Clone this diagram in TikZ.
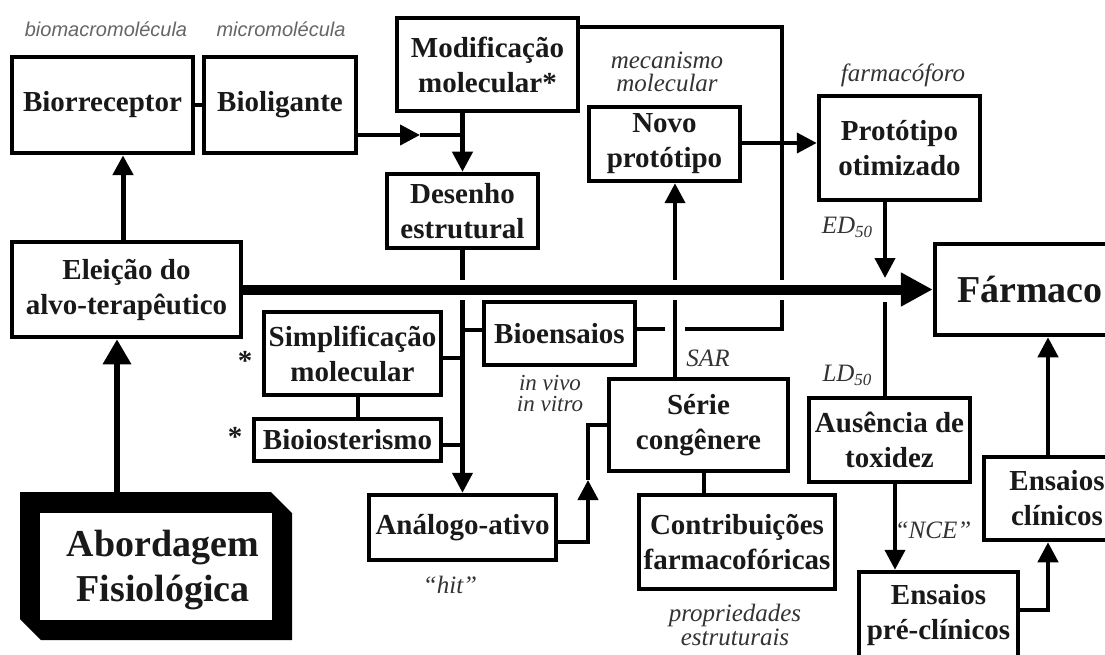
\documentclass[tikz,border=0pt]{standalone}
\usepackage{fontspec}
\setmainfont{Liberation Serif}
\newfontfamily\lsans{Liberation Sans}
\usetikzlibrary{arrows.meta}
\begin{document}
\begin{tikzpicture}[x=1pt,y=-1pt,
  box/.style={draw=black, line width=4.5pt, inner sep=0pt, align=center, text=black!90,
     font=\bfseries\fontsize{29}{35}\selectfont},
  bigbox/.style={box, font=\bfseries\fontsize{38}{45}\selectfont},
  conn/.style={line width=4.2pt, draw=black},
  arr/.style={conn, -{Triangle[length=20pt,width=20pt]}},
  mainarr/.style={line width=10pt, draw=black, -{Triangle[length=32pt,width=32pt]}},
  aboarr/.style={line width=6.5pt, draw=black, -{Triangle[length=25pt,width=27pt]}},
  lbl/.style={inner sep=0pt, align=center, text=black!80, font=\itshape\fontsize{25}{23}\selectfont},
  glbl/.style={inner sep=0pt, text=black!60, font=\lsans\itshape\fontsize{20}{24}\selectfont},
  astk/.style={inner sep=0pt, anchor=base, text=black!90, font=\bfseries\fontsize{29}{35}\selectfont},
]
\useasboundingbox (0,0) rectangle (1105,655);
\clip (0,0) rectangle (1105,655);
\fill[white] (0,0) rectangle (1105,655);

% ---------- boxes ----------
\node[box, minimum width=181pt, minimum height=96pt] (bior) at (102.5,105) {Biorreceptor};
\node[box, minimum width=152pt, minimum height=96pt] (biol) at (280,105) {Bioligante};
\node[box, minimum width=181pt, minimum height=93pt] (mod) at (487.5,64.5) {Modificação\\molecular*};
\node[box, minimum width=151pt, minimum height=74pt] (des) at (462.5,211) {Desenho\\estrutural};
\node[box, minimum width=151pt, minimum height=74pt] (novo) at (664.5,144) {Novo\\protótipo};
\node[box, minimum width=161pt, minimum height=104pt] (prot) at (899.5,148) {Protótipo\\otimizado};
\node[box, minimum width=229pt, minimum height=95pt] (ele) at (126.5,289.5) {Eleição do\\alvo-terapêutico};
\node[bigbox, minimum width=190pt, minimum height=91pt] (far) at (1030,289.5) {Fármaco};
\node[box, minimum width=177pt, minimum height=83pt] (sim) at (352.5,353.5) {Simplificação\\molecular};
\node[box, minimum width=187pt, minimum height=42pt] (bio) at (347.5,440) {Bioiosterismo};
\node[box, minimum width=151pt, minimum height=63pt] (bens) at (559.5,333.5) {Bioensaios};
\node[box, minimum width=179pt, minimum height=92pt] (ser) at (698.5,425) {Série\\congênere};
\node[box, minimum width=187pt, minimum height=65pt] (ana) at (462.5,527.5) {Análogo-ativo};
\node[box, minimum width=196pt, minimum height=94pt] (con) at (737,542) {Contribuições\\farmacofóricas};
\node[box, minimum width=161pt, minimum height=84pt] (aus) at (889.5,440) {Ausência de\\toxidez};
\node[box, minimum width=159pt, minimum height=87pt] (pre) at (938.5,615.5) {Ensaios\\pré-clínicos};
\node[box, minimum width=146pt, minimum height=83pt] (cli) at (1057,498.5) {Ensaios\\clínicos};

% Abordagem Fisiologica (thick chamfered frame)
\fill[black] (20,492) -- (271,492) -- (292,513) -- (292,640) -- (41,640) -- (20,619) -- cycle;
\node[fill=white, inner sep=0pt, minimum width=232pt, minimum height=107pt] (abo) at (156,566.5) {};
\node[inner sep=0pt, align=center, text=black!90, font=\bfseries\fontsize{38}{45}\selectfont] (abot) at (163,570.5) {Abordagem\\Fisiológica};

% ---------- labels ----------
\node[glbl] (l1) at (106,29) {biomacromolécula};
\node[glbl] (l2) at (281,29) {micromolécula};
\node[lbl] (l3) at (667,71.5) {mecanismo\\molecular};
\node[lbl] (l4) at (903,75) {farmacóforo};
\node[lbl] (l5) at (847,227) {ED\raisebox{-0.35ex}{\fontsize{17}{17}\selectfont 50}};
\node[lbl] (l6) at (847,375) {LD\raisebox{-0.35ex}{\fontsize{17}{17}\selectfont 50}};
\node[lbl] (l7) at (708,358) {SAR};
\node[lbl, font=\itshape\fontsize{23}{21}\selectfont] (l8) at (550,393) {in vivo\\in vitro};
\node[lbl] (l9) at (450,585) {“hit”};
\node[lbl, font=\itshape\fontsize{25}{24}\selectfont] (l10) at (735,625) {propriedades\\estruturais};
\node[lbl] (l11) at (933,530) {“NCE”};
\node[astk] (s1) at (245,370) {*};
\node[astk] (s2) at (235,446) {*};

% ---------- coordinates ----------
\coordinate (m1) at (420,135);
\coordinate (j1) at (462.5,135);
\coordinate (g1a) at (462.5,280);
\coordinate (g1b) at (462.5,300);
\coordinate (f1) at (782,27);
\coordinate (f2) at (782,280);
\coordinate (f3) at (782,300);
\coordinate (f4) at (782,329);
\coordinate (f5) at (685,329);
\coordinate (f6) at (665,329);
\coordinate (n1) at (675,300);
\coordinate (n2) at (675,280);
\coordinate (p1) at (885,278);
\coordinate (p2) at (885,302);
\coordinate (a1) at (588,480);
\coordinate (k1) at (1048,610);
\coordinate (aboTop) at (117,492);

% ---------- connectors ----------
\draw[conn] (bior.east) -- (biol.west);
\draw[arr, line width=5pt] ([xshift=-3.5pt]ele.north) -- ([xshift=-3.5pt]ele.north |- bior.south);
\draw[aboarr] (aboTop) -- (aboTop |- ele.south);
\draw[arr] (biol.east |- m1) -- (m1);
\draw[conn] (m1) -- (j1);
\draw[arr] (des.north |- mod.south) -- (des.north);
\draw[conn] (des.south) -- (g1a);
\draw[arr] (g1b) -- (ana.north);
\draw[conn] (sim.east |- 0,358) -- (ana.north |- 0,358);
\draw[conn] (bio.east |- 0,445) -- (ana.north |- 0,445);
\draw[conn] (bens.west |- 0,330) -- (ana.north |- 0,330);
\draw[conn] (sim.south -| 358,0) -- (bio.north -| 358,0);
% feedback Bioensaios -> Modificacao
\draw[conn] (mod.east |- f1) -- (f1) -- (f2);
\draw[conn] (f3) -- (f4) -- (f5);
\draw[conn] (f6) -- (bens.east |- f6);
% Serie -> Novo prototipo
\draw[conn] (ser.north -| n1) -- (n1);
\draw[arr] (n2) -- (novo.south -| n2);
\draw[arr] (novo.east |- 0,143) -- (prot.west |- 0,143);
% Prototipo otimizado -> Farmaco / Ausencia
\draw[arr] (prot.south -| p1) -- (p1);
\draw[conn] (p2) -- (aus.north -| p2);
% main arrow
\draw[mainarr] (ele.east) -- (far.west);
% toxicity chain
\draw[arr] (aus.south -| 895,0) -- (pre.north -| 895,0);
\draw[arr] (pre.east |- k1) -| (cli.south -| k1);
\draw[arr] (cli.north -| k1) -- (far.south -| k1);
% Analogo -> Serie
\draw[arr] (ana.east |- 0,542) -| (a1);
\draw[conn] (a1) |- (ser.west |- 0,425);
\draw[conn] (ser.south -| 704,0) -- (con.north -| 704,0);
\end{tikzpicture}
\end{document}
